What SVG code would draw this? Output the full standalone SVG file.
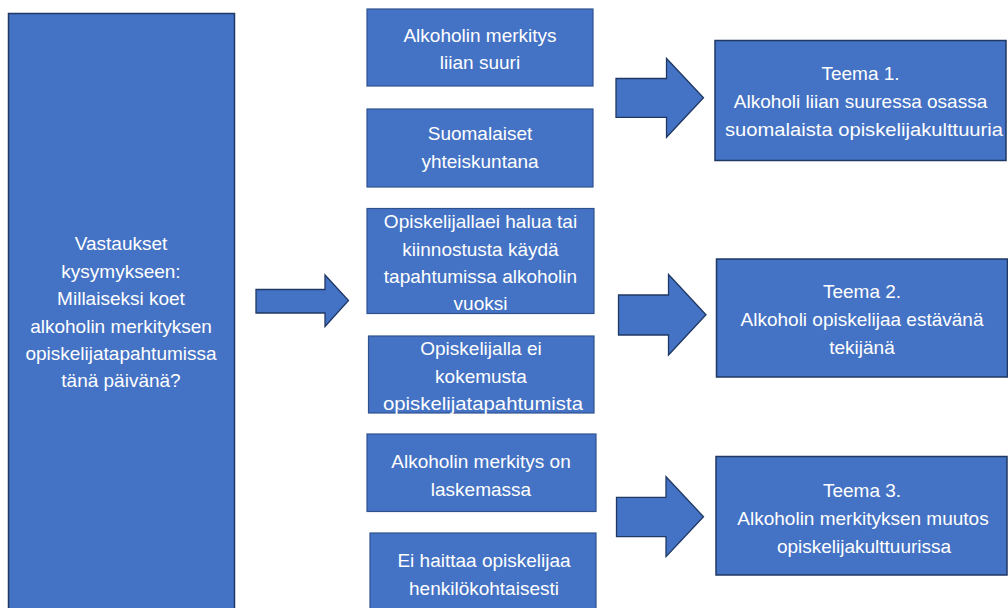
<svg xmlns="http://www.w3.org/2000/svg" width="1008" height="608" viewBox="0 0 1008 608">
<style>
.box{fill:#4472C4;stroke:#2F528F;stroke-width:1.2}
.dark{fill:#4472C4;stroke:#1F3864;stroke-width:1.5}
.arr{fill:#4472C4;stroke:#1F3864;stroke-width:1.3;stroke-linejoin:miter}
text{font-family:"Liberation Sans",Arial,sans-serif;font-size:19px;fill:#FFFFFF;text-anchor:middle}
</style>
<rect width="1008" height="608" fill="#FFFFFF"/>
<g id="question">
<rect class="dark" x="8.5" y="13.5" width="226" height="600"/>
<text x="121" y="250">Vastaukset</text>
<text x="121" y="278">kysymykseen:</text>
<text x="121" y="305">Millaiseksi koet</text>
<text x="121" y="333">alkoholin merkityksen</text>
<text x="121" y="360">opiskelijatapahtumissa</text>
<text x="121" y="387">tänä päivänä?</text>
</g>
<g id="a1">
<rect class="box" x="367" y="9" width="226" height="77"/>
<text x="480" y="42">Alkoholin merkitys</text>
<text x="480" y="69">liian suuri</text>
</g>
<g id="a2">
<rect class="box" x="367" y="109" width="226" height="78"/>
<text x="480" y="140">Suomalaiset</text>
<text x="480" y="168">yhteiskuntana</text>
</g>
<g id="b1">
<rect class="box" x="367" y="208.5" width="227" height="105"/>
<text x="480.5" y="228">Opiskelijallaei halua tai</text>
<text x="480.5" y="256">kiinnostusta käydä</text>
<text x="480.5" y="283">tapahtumissa alkoholin</text>
<text x="480.5" y="310">vuoksi</text>
</g>
<g id="b2">
<rect class="box" x="368.5" y="336" width="225.5" height="77"/>
<text x="481" y="355">Opiskelijalla ei</text>
<text x="481" y="383">kokemusta</text>
<text x="483" y="410" textLength="200" lengthAdjust="spacingAndGlyphs">opiskelijatapahtumista</text>
</g>
<g id="c1">
<rect class="box" x="367" y="434" width="229" height="77.5"/>
<text x="481" y="468">Alkoholin merkitys on</text>
<text x="481" y="496">laskemassa</text>
</g>
<g id="c2">
<rect class="box" x="370" y="533" width="226" height="80"/>
<text x="484" y="567">Ei haittaa opiskelijaa</text>
<text x="484" y="595">henkilökohtaisesti</text>
</g>
<g id="teema1">
<rect class="dark" x="715" y="40.5" width="291" height="120"/>
<text x="860.5" y="80">Teema 1.</text>
<text x="860.5" y="108">Alkoholi liian suuressa osassa</text>
<text x="864" y="136" textLength="278" lengthAdjust="spacingAndGlyphs">suomalaista opiskelijakulttuuria</text>
</g>
<g id="teema2">
<rect class="dark" x="716.5" y="259" width="291" height="118"/>
<text x="862" y="298">Teema 2.</text>
<text x="862" y="326">Alkoholi opiskelijaa estävänä</text>
<text x="862" y="354">tekijänä</text>
</g>
<g id="teema3">
<rect class="dark" x="716" y="456.5" width="291" height="118.5"/>
<text x="862" y="497">Teema 3.</text>
<text x="863" y="525">Alkoholin merkityksen muutos</text>
<text x="864" y="553">opiskelijakulttuurissa</text>
</g>
<g id="connectors">
<polygon class="arr" points="256,289.5 325,289.5 325,275 348.5,300.5 325,326.5 325,313 256,313"/>
<polygon class="arr" points="616,78.5 666.5,78.5 666.5,58.5 703.5,97.8 666.5,137.3 666.5,117.3 616,117.3"/>
<polygon class="arr" points="618.5,295 668.5,295 668.5,274.5 706,314.7 668.5,355 668.5,335 618.5,335"/>
<polygon class="arr" points="616.5,497.3 666,497.3 666,476.7 703.5,516.7 666,556.7 666,536.7 616.5,536.7"/>
</g>
</svg>
